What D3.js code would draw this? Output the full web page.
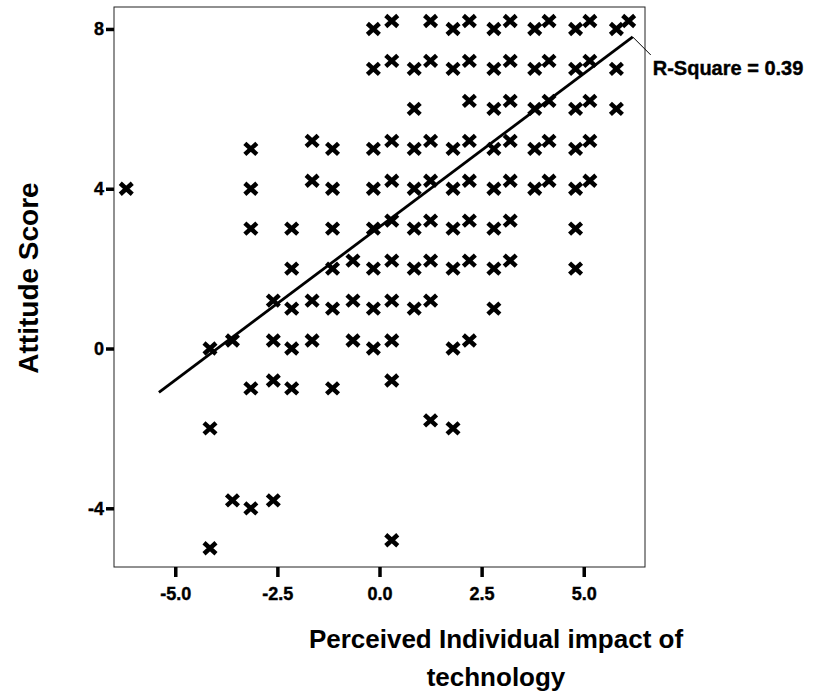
<!DOCTYPE html>
<html>
<head>
<meta charset="utf-8">
<script src="https://cdn.jsdelivr.net/npm/d3@7"></script>
<style>
  body { margin: 0; background: #fff; }
  svg { display: block; font-family: "Liberation Sans", Arial, sans-serif; }
</style>
</head>
<body>
<div id="chart"></div>
<script>
// impact / attitude pairs, one line per attitude row
const points = [
  [-0.15, 8], [1.8, 8], [2.8, 8], [3.8, 8], [4.8, 8], [5.8, 8],
  [0.3, 8.2], [1.25, 8.2], [2.2, 8.2], [3.2, 8.2], [4.15, 8.2], [5.15, 8.2], [6.1, 8.2],
  [-0.15, 7], [0.85, 7], [1.8, 7], [2.8, 7], [3.8, 7], [4.8, 7], [5.8, 7],
  [0.3, 7.2], [1.25, 7.2], [2.2, 7.2], [3.2, 7.2], [4.15, 7.2], [5.15, 7.2],
  [0.85, 6], [2.8, 6], [3.8, 6], [4.8, 6], [5.8, 6],
  [2.2, 6.2], [3.2, 6.2], [4.15, 6.2], [5.15, 6.2],
  [-3.15, 5], [-1.15, 5], [-0.15, 5], [0.85, 5], [1.8, 5], [2.8, 5], [3.8, 5], [4.8, 5],
  [-1.65, 5.2], [0.3, 5.2], [1.25, 5.2], [2.2, 5.2], [3.2, 5.2], [4.15, 5.2], [5.15, 5.2],
  [-6.2, 4], [-3.15, 4], [-1.15, 4], [-0.15, 4], [0.85, 4], [1.8, 4], [2.8, 4], [3.8, 4], [4.8, 4],
  [-1.65, 4.2], [0.3, 4.2], [1.25, 4.2], [2.2, 4.2], [3.2, 4.2], [4.15, 4.2], [5.15, 4.2],
  [-3.15, 3], [-2.15, 3], [-1.15, 3], [-0.15, 3], [0.85, 3], [1.8, 3], [2.8, 3], [4.8, 3],
  [0.3, 3.2], [1.25, 3.2], [2.2, 3.2], [3.2, 3.2],
  [-2.15, 2], [-1.15, 2], [-0.15, 2], [0.85, 2], [1.8, 2], [2.8, 2], [4.8, 2],
  [-0.65, 2.2], [0.3, 2.2], [1.25, 2.2], [2.2, 2.2], [3.2, 2.2],
  [-2.15, 1], [-1.15, 1], [-0.15, 1], [0.85, 1], [2.8, 1],
  [-2.6, 1.2], [-1.65, 1.2], [-0.65, 1.2], [0.3, 1.2], [1.25, 1.2],
  [-4.15, 0], [-2.15, 0], [-0.15, 0], [1.8, 0],
  [-3.6, 0.2], [-2.6, 0.2], [-1.65, 0.2], [-0.65, 0.2], [0.3, 0.2], [2.2, 0.2],
  [-3.15, -1], [-2.15, -1], [-1.15, -1],
  [-2.6, -0.8], [0.3, -0.8],
  [-4.15, -2], [1.8, -2],
  [1.25, -1.8],
  [-3.15, -4],
  [-3.6, -3.8], [-2.6, -3.8],
  [-4.15, -5],
  [0.3, -4.8]
];

const xTicks = [-5, -2.5, 0, 2.5, 5];
const yTicks = [-4, 0, 4, 8];

// fitted line endpoints as drawn
const fitLine = [[-5.4, -1.1], [6.2, 7.8]];
const rSquare = 0.39;

const xLabel = ["Perceived Individual impact of", "technology"];
const yLabel = "Attitude Score";

const W = 814, H = 694;
const plot = {left: 114, right: 645, top: 7, bottom: 567};

const svg = d3.select("#chart").append("svg")
  .attr("width", W)
  .attr("height", H);

const x = d3.scaleLinear().domain([-6.5, 6.5]).range([plot.left, plot.right]);
const y = d3.scaleLinear().domain([-5.47, 8.55]).range([plot.bottom, plot.top]);

// frame
svg.append("rect")
  .attr("x", plot.left)
  .attr("y", plot.top)
  .attr("width", plot.right - plot.left)
  .attr("height", plot.bottom - plot.top)
  .attr("fill", "none")
  .attr("stroke", "#222")
  .attr("stroke-width", 1);

// axes
const xAxis = svg.append("g")
  .attr("transform", `translate(0,${plot.bottom})`)
  .call(d3.axisBottom(x).tickValues(xTicks).tickSize(10).tickPadding(10)
    .tickFormat(d => d.toFixed(1)));

const yAxis = svg.append("g")
  .attr("transform", `translate(${plot.left},0)`)
  .call(d3.axisLeft(y).tickValues(yTicks).tickSize(8).tickPadding(2)
    .tickFormat(d => String(d)));

[xAxis, yAxis].forEach(g => {
  g.select(".domain").remove();
  g.selectAll(".tick line").style("stroke", "#000").style("stroke-width", "3.5px");
  g.selectAll(".tick text")
    .attr("fill", "#000")
    .style("font-size", "18px")
    .style("font-weight", "bold")
    .style("stroke", "#000")
    .style("stroke-width", "0.4px");
});

// points
svg.append("g")
  .selectAll("path")
  .data(points)
  .join("path")
    .attr("transform", d => `translate(${x(d[0])},${y(d[1])})`)
    .attr("d", "M-6,-5.5L6,5.5M-6,5.5L6,-5.5")
    .attr("stroke", "#000")
    .attr("stroke-width", 4.5)
    .attr("fill", "none");

// fit line
const line = d3.line().x(d => x(d[0])).y(d => y(d[1]));
svg.append("path")
  .attr("d", line(fitLine))
  .attr("fill", "none")
  .attr("stroke", "#000")
  .attr("stroke-width", 2.8);

// r-square label with leader
const endX = x(fitLine[1][0]), endY = y(fitLine[1][1]);
svg.append("line")
  .attr("x1", endX).attr("y1", endY)
  .attr("x2", endX + 18).attr("y2", endY + 18)
  .attr("stroke", "#000")
  .attr("stroke-width", 1);

svg.append("text")
  .attr("x", endX + 20)
  .attr("y", endY + 38)
  .style("font-size", "20px")
  .style("font-weight", "bold")
  .style("stroke", "#000")
  .style("stroke-width", "0.4px")
  .text(`R-Square = ${rSquare.toFixed(2)}`);

// axis titles
svg.append("text")
  .attr("text-anchor", "middle")
  .style("font-size", "26px")
  .style("font-weight", "bold")
  .selectAll("tspan")
  .data(xLabel)
  .join("tspan")
    .attr("x", 496)
    .attr("y", (d, i) => 648 + i * 38)
    .text(d => d);

svg.append("text")
  .attr("transform", "translate(38,278) rotate(-90)")
  .attr("text-anchor", "middle")
  .style("font-size", "28px")
  .style("font-weight", "bold")
  .text(yLabel);
</script>
</body>
</html>
